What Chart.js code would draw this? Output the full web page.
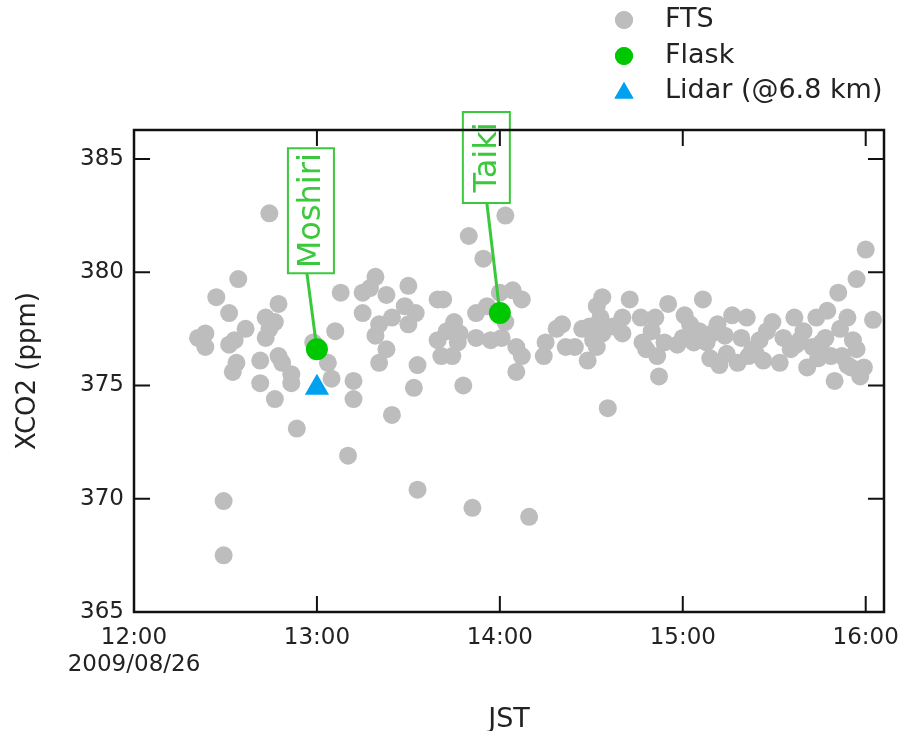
<!DOCTYPE html>
<html>
<head>
<meta charset="utf-8">
<script src="https://cdn.jsdelivr.net/npm/chart.js@4.4.1/dist/chart.umd.min.js"></script>
<style>
  body { margin: 0; background: #fff; }
  #wrap { width: 904px; height: 731px; }
</style>
</head>
<body>
<div id="wrap"><canvas id="xco2Chart"></canvas></div>
<script>
// FTS retrievals, time in hours (JST) and XCO2 in ppm
const ftsTimes = [
  12.35, 12.39, 12.39, 12.45, 12.57, 12.74, 12.52, 12.79, 12.61, 12.52,
  12.55, 12.72, 12.77, 12.72, 12.74, 12.56, 12.54, 12.69, 12.79, 12.81,
  12.86, 12.86, 12.69, 12.77, 12.89, 12.49, 12.49, 12.98,
  13.06, 13.08, 13.10, 13.13, 13.25, 13.29, 13.32, 13.38, 13.50, 13.25,
  13.48, 13.54, 13.50, 13.34, 13.41, 13.32, 13.66, 13.69, 13.75, 13.71,
  13.66, 13.78, 13.77, 13.68, 13.74, 13.38, 13.34, 13.55, 13.53, 13.20,
  13.20, 13.41, 13.80, 13.17, 13.55, 13.85, 13.83, 13.91, 14.03, 13.87,
  13.93, 13.87, 13.95,
  14.01, 14.00, 14.07, 14.12, 14.03, 14.09, 14.12, 14.09, 14.25, 14.24,
  14.31, 14.34, 14.36, 14.41, 14.45, 14.49, 14.51, 14.48, 14.53, 14.56,
  14.55, 14.56, 14.16, 14.59, 14.87, 14.71, 14.92, 14.67, 14.67, 14.78,
  14.86, 14.77, 14.85, 14.80, 14.90, 14.97, 14.53, 14.62, 14.83,
  15.01, 15.27, 15.04, 15.09, 15.13, 15.20, 15.19, 15.24, 15.11, 15.30,
  15.44, 15.53, 15.68, 15.74, 15.35, 15.49, 15.61, 15.73, 15.16, 15.00,
  15.32, 15.42, 15.55, 15.64, 15.38, 15.59, 15.71, 15.40, 15.62, 15.06,
  15.23, 15.46, 15.66, 15.76, 15.15, 15.36,
  15.83, 15.90, 15.79, 15.90, 15.95, 15.93, 15.86, 15.78, 15.81, 15.87,
  15.92, 15.85, 15.95, 16.00, 16.04, 15.99, 15.97
];
const ftsValues = [
  377.1, 377.3, 376.7, 378.9, 379.7, 382.6, 378.2, 378.6, 377.5, 376.8,
  377.0, 378.0, 377.8, 377.1, 377.5, 376.0, 375.6, 376.1, 376.3, 376.0,
  375.5, 375.1, 375.1, 374.4, 373.1, 369.9, 367.5, 376.9,
  376.0, 375.3, 377.4, 379.1, 379.1, 379.3, 379.8, 379.0, 379.4, 378.2,
  378.5, 378.2, 377.7, 377.7, 378.0, 377.2, 378.8, 378.8, 377.8, 377.4,
  377.0, 377.3, 376.9, 376.3, 376.3, 376.6, 376.0, 375.9, 374.9, 375.2,
  374.4, 373.7, 375.0, 371.9, 370.4, 369.6, 381.6, 380.6, 382.5, 378.2,
  378.5, 377.1, 377.0,
  377.1, 379.1, 379.2, 378.8, 377.8, 376.7, 376.3, 375.6, 376.9, 376.3,
  377.5, 377.7, 376.7, 376.7, 377.5, 377.6, 377.0, 376.1, 378.5, 378.9,
  378.0, 377.3, 369.2, 374.0, 375.4, 378.8, 378.6, 378.0, 377.3, 376.9,
  376.3, 378.0, 378.0, 376.6, 376.9, 376.8, 376.7, 377.6, 377.4,
  378.1, 378.1, 377.7, 377.4, 376.9, 375.9, 377.7, 376.4, 378.8, 376.0,
  376.1, 376.0, 375.8, 376.2, 378.0, 377.8, 378.0, 378.0, 377.3, 377.1,
  377.1, 377.0, 377.1, 377.0, 376.6, 376.6, 376.7, 376.4, 376.8, 376.9,
  377.2, 377.4, 377.4, 376.9, 376.2, 376.3,
  375.2, 378.0, 378.3, 375.9, 376.6, 377.0, 377.5, 377.1, 376.3, 376.3,
  375.8, 379.1, 379.7, 381.0, 377.9, 375.8, 375.4
];

// Flask samples
const flaskSites = ["Moshiri", "Taiki"];
const flaskTimes = [13.0, 14.0];
const flaskValues = [376.6, 378.2];

// Lidar (@6.8 km)
const lidarTimes = [13.0];
const lidarValues = [374.9];

// axis ticks
const yTicks = [365, 370, 375, 380, 385];
const xTicks = [12, 13, 14, 15, 16];
const dateLabel = "2009/08/26";

const FONT = "DejaVu Sans";
const TEXT = "#222";
const SITE_GREEN = "#3cc83c";

const toPoints = (xs, ys) => xs.map((x, i) => ({ x, y: ys[i] }));

// label boxes for the flask sites, offsets in pixels from the flask marker
const siteBoxes = [
  { dx: -29, dy: -201, w: 46, h: 125, lineDx: -10 },
  { dx: -37, dy: -201, w: 47, h: 91, lineDx: -13 }
];

// draws the site labels right after the FTS dots, so the flask dots sit on top
const siteLabels = {
  id: "siteLabels",
  afterDatasetDraw(chart, args) {
    if (args.index !== 2) return;
    const { ctx, scales } = chart;
    flaskSites.forEach((site, i) => {
      const fx = scales.x.getPixelForValue(flaskTimes[i]);
      const fy = scales.y.getPixelForValue(flaskValues[i]);
      const b = siteBoxes[i];
      const left = fx + b.dx, top = fy + b.dy;
      ctx.save();
      ctx.strokeStyle = SITE_GREEN;
      ctx.lineWidth = 3;
      ctx.beginPath();
      ctx.moveTo(fx + b.lineDx, top + b.h);
      ctx.lineTo(fx, fy);
      ctx.stroke();
      ctx.fillStyle = "#fff";
      ctx.fillRect(left, top, b.w, b.h);
      ctx.lineWidth = 2;
      ctx.strokeRect(left, top, b.w, b.h);
      ctx.translate(left + b.w / 2, top + b.h / 2);
      ctx.rotate(-Math.PI / 2);
      ctx.fillStyle = SITE_GREEN;
      ctx.font = "32px " + FONT;
      ctx.textAlign = "center";
      ctx.textBaseline = "middle";
      ctx.fillText(site, 0, 1);
      ctx.restore();
    });
  }
};

// box around the plot with inward ticks, plus the legend in the top right
const frame = {
  id: "frame",
  afterDraw(chart) {
    const { ctx, chartArea: a, scales } = chart;
    const len = 16;
    ctx.save();
    ctx.strokeStyle = "#111";
    ctx.lineWidth = 2.5;
    ctx.strokeRect(a.left, a.top, a.right - a.left, a.bottom - a.top);
    ctx.lineWidth = 2;
    ctx.beginPath();
    yTicks.forEach((v) => {
      const y = scales.y.getPixelForValue(v);
      ctx.moveTo(a.left, y); ctx.lineTo(a.left + len, y);
      ctx.moveTo(a.right, y); ctx.lineTo(a.right - len, y);
    });
    xTicks.forEach((v) => {
      const x = scales.x.getPixelForValue(v);
      ctx.moveTo(x, a.bottom); ctx.lineTo(x, a.bottom - len);
      ctx.moveTo(x, a.top); ctx.lineTo(x, a.top + len);
    });
    ctx.stroke();

    // legend: FTS, Flask, Lidar
    const rows = [20, 56, 91];
    const order = [2, 0, 1];
    order.forEach((dsIndex, i) => {
      const ds = chart.data.datasets[dsIndex];
      const tri = ds.pointStyle === "triangle";
      ctx.fillStyle = ds.backgroundColor;
      Chart.helpers.drawPoint(ctx, {
        pointStyle: ds.pointStyle || "circle",
        radius: tri ? 11 : 9,
        rotation: 0,
        borderWidth: 0
      }, 624, rows[i] + (tri ? 2 : 0));
      ctx.fill();
      ctx.fillStyle = TEXT;
      ctx.font = "27px " + FONT;
      ctx.textAlign = "left";
      ctx.textBaseline = "middle";
      ctx.fillText(ds.label, 665, rows[i]);
    });
    ctx.restore();
  }
};

Chart.defaults.font.family = FONT;
Chart.defaults.color = TEXT;

new Chart(document.getElementById("xco2Chart"), {
  type: "scatter",
  data: {
    datasets: [
      {
        label: "Flask",
        data: toPoints(flaskTimes, flaskValues),
        backgroundColor: "#00c800",
        borderWidth: 0,
        pointRadius: 11,
        order: 1
      },
      {
        label: "Lidar (@6.8 km)",
        data: toPoints(lidarTimes, lidarValues),
        pointStyle: "triangle",
        backgroundColor: "#00a2f0",
        borderWidth: 0,
        pointRadius: 14,
        order: 2
      },
      {
        label: "FTS",
        data: toPoints(ftsTimes, ftsValues),
        backgroundColor: "#bdbdbd",
        borderWidth: 0,
        pointRadius: 9,
        order: 3
      }
    ]
  },
  options: {
    responsive: true,
    maintainAspectRatio: false,
    animation: false,
    events: [],
    layout: { padding: { top: 130, right: 20, bottom: 0, left: 0 } },
    plugins: {
      legend: { display: false },
      tooltip: { enabled: false }
    },
    scales: {
      x: {
        type: "linear",
        min: 12,
        max: 16.1,
        afterFit: (s) => {
          s.height = 119;
          s.paddingLeft = 0;
          s.paddingRight = 0;
        },
        grid: { display: false, drawTicks: false },
        border: { display: false },
        ticks: {
          stepSize: 1,
          includeBounds: false,
          maxRotation: 0,
          padding: 12,
          font: { size: 23 },
          callback: (v) => (v === 12 ? ["12:00", dateLabel] : v + ":00")
        },
        title: {
          display: true,
          text: "JST",
          font: { size: 27 },
          padding: { top: 0, bottom: -5 }
        }
      },
      y: {
        min: 365,
        max: 386.28,
        afterFit: (s) => { s.width = 134; },
        grid: { display: false, drawTicks: false },
        border: { display: false },
        ticks: {
          stepSize: 5,
          includeBounds: false,
          padding: 10,
          font: { size: 23 }
        },
        title: {
          display: true,
          text: "XCO2 (ppm)",
          font: { size: 26 },
          padding: { top: 13, bottom: 0 }
        }
      }
    }
  },
  plugins: [siteLabels, frame]
});
</script>
</body>
</html>
